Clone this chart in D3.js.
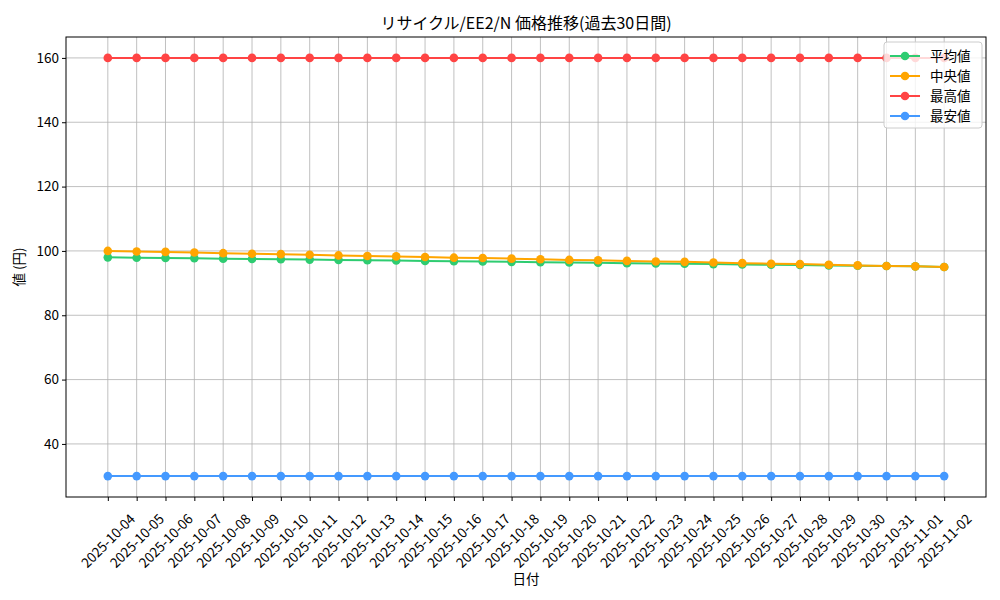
<!DOCTYPE html>
<html lang="ja">
<head>
  <meta charset="UTF-8">
  <title>リサイクル/EE2/N 価格推移</title>
  <style>
    body { margin: 0; background: #fff; }
    text { font-family: "Noto Sans CJK JP", "DejaVu Sans", sans-serif; }
  </style>
  <script src="https://d3js.org/d3.v7.min.js"></script>
</head>
<body>
  <div id="chart"></div>
  <script>
    const dates = [
      "2025-10-04", "2025-10-05", "2025-10-06", "2025-10-07", "2025-10-08",
      "2025-10-09", "2025-10-10", "2025-10-11", "2025-10-12", "2025-10-13",
      "2025-10-14", "2025-10-15", "2025-10-16", "2025-10-17", "2025-10-18",
      "2025-10-19", "2025-10-20", "2025-10-21", "2025-10-22", "2025-10-23",
      "2025-10-24", "2025-10-25", "2025-10-26", "2025-10-27", "2025-10-28",
      "2025-10-29", "2025-10-30", "2025-10-31", "2025-11-01", "2025-11-02"
    ];
    const avgValues = [
      98.0, 97.9, 97.8, 97.7, 97.6, 97.5, 97.4, 97.3, 97.2, 97.1,
      97.0, 96.9, 96.8, 96.7, 96.6, 96.5, 96.4, 96.3, 96.2, 96.1,
      96.0, 95.9, 95.8, 95.7, 95.6, 95.5, 95.4, 95.3, 95.2, 95.0
    ];
    const medianValues = [
      100.0, 99.8, 99.7, 99.5, 99.3, 99.1, 99.0, 98.8, 98.6, 98.4,
      98.3, 98.1, 97.9, 97.8, 97.6, 97.4, 97.2, 97.1, 96.9, 96.7,
      96.6, 96.4, 96.2, 96.0, 95.9, 95.7, 95.5, 95.3, 95.2, 95.0
    ];
    const maxValues = [
      160, 160, 160, 160, 160, 160, 160, 160, 160, 160,
      160, 160, 160, 160, 160, 160, 160, 160, 160, 160,
      160, 160, 160, 160, 160, 160, 160, 160, 160, 160
    ];
    const minValues = [
      30, 30, 30, 30, 30, 30, 30, 30, 30, 30,
      30, 30, 30, 30, 30, 30, 30, 30, 30, 30,
      30, 30, 30, 30, 30, 30, 30, 30, 30, 30
    ];
    const seriesNames = ["平均値", "中央値", "最高値", "最安値"];
    const seriesColors = ["#2ecc71", "#ffa500", "#ff4444", "#4499ff"];
    const yTicks = [40, 60, 80, 100, 120, 140, 160];

    const series = [avgValues, medianValues, maxValues, minValues].map((vals, i) => ({
      name: seriesNames[i],
      color: seriesColors[i],
      values: vals.map((v, j) => ({ date: dates[j], value: v }))
    }));

    const margin = { top: 37, right: 14, bottom: 103, left: 66 };
    const width = 1000 - margin.left - margin.right;
    const height = 600 - margin.top - margin.bottom;

    const root = d3.select("#chart")
      .append("svg")
      .attr("width", 1000)
      .attr("height", 600);

    const svg = root.append("g")
      .attr("transform", `translate(${margin.left},${margin.top})`);

    // matplotlib-like 5% padding on both axes
    const n = dates.length;
    const pad = (n - 1) * 0.05;
    const xIdx = d3.scaleLinear()
      .domain([-pad, n - 1 + pad])
      .range([0, width]);
    const x = d => xIdx(dates.indexOf(d));

    const allVals = [].concat(avgValues, medianValues, maxValues, minValues);
    const yMin = d3.min(allVals), yMax = d3.max(allVals);
    const yPad = (yMax - yMin) * 0.05;
    const y = d3.scaleLinear()
      .domain([yMin - yPad, yMax + yPad])
      .range([height, 0]);

    // grid
    svg.append("g")
      .selectAll("line")
      .data(dates)
      .join("line")
      .attr("x1", d => x(d)).attr("x2", d => x(d))
      .attr("y1", 0).attr("y2", height)
      .attr("stroke", "#b0b0b0").attr("stroke-width", 0.8);
    svg.append("g")
      .selectAll("line")
      .data(yTicks)
      .join("line")
      .attr("x1", 0).attr("x2", width)
      .attr("y1", d => y(d)).attr("y2", d => y(d))
      .attr("stroke", "#b0b0b0").attr("stroke-width", 0.8);

    // axes
    const xAxis = svg.append("g")
      .attr("transform", `translate(0,${height})`)
      .call(d3.axisBottom(xIdx)
        .tickValues(d3.range(n))
        .tickFormat(i => dates[i])
        .tickSizeOuter(0)
        .tickSize(4));
    // rotated labels centred under each tick, like matplotlib rotation=45
    xAxis.selectAll("text")
      .attr("y", 0)
      .attr("dy", "0.35em")
      .attr("transform", "translate(0,44) rotate(-45)")
      .attr("text-anchor", "middle")
      .style("font-size", "13.5px")
      .attr("fill", "#000");

    const yAxis = svg.append("g")
      .call(d3.axisLeft(y).tickValues(yTicks).tickSizeOuter(0).tickSize(4));
    yAxis.selectAll("text").style("font-size", "13.5px").attr("fill", "#000");
    svg.selectAll(".domain").remove();
    svg.selectAll(".tick line").attr("stroke", "#000");

    // frame
    svg.append("rect")
      .attr("width", width).attr("height", height)
      .attr("fill", "none").attr("stroke", "#000").attr("stroke-width", 1);

    // lines and markers
    const line = d3.line().x(d => x(d.date)).y(d => y(d.value));
    series.forEach(s => {
      svg.append("path")
        .datum(s.values)
        .attr("fill", "none")
        .attr("stroke", s.color)
        .attr("stroke-width", 2)
        .attr("d", line);
      svg.append("g")
        .selectAll("circle")
        .data(s.values)
        .join("circle")
        .attr("cx", d => x(d.date))
        .attr("cy", d => y(d.value))
        .attr("r", 4.3)
        .attr("fill", s.color);
    });

    // labels
    root.append("text")
      .attr("x", margin.left + width / 2)
      .attr("y", 29)
      .attr("text-anchor", "middle")
      .style("font-size", "16px")
      .text("リサイクル/EE2/N 価格推移(過去30日間)");
    root.append("text")
      .attr("x", margin.left + width / 2)
      .attr("y", 584)
      .attr("text-anchor", "middle")
      .style("font-size", "13.5px")
      .text("日付");
    root.append("text")
      .attr("transform", `translate(24,${margin.top + height / 2}) rotate(-90)`)
      .attr("text-anchor", "middle")
      .style("font-size", "13.5px")
      .text("値 (円)");

    // legend
    const legend = svg.append("g")
      .attr("transform", `translate(${width - 102},5)`);
    legend.append("rect")
      .attr("width", 98).attr("height", 86)
      .attr("rx", 3)
      .attr("fill", "#fff").attr("fill-opacity", 0.8)
      .attr("stroke", "#ccc");
    series.forEach((s, i) => {
      const row = legend.append("g").attr("transform", `translate(6,${14 + i * 20})`);
      row.append("line")
        .attr("x1", 0).attr("x2", 30)
        .attr("stroke", s.color).attr("stroke-width", 2);
      row.append("circle").attr("cx", 15).attr("r", 4.3).attr("fill", s.color);
      row.append("text")
        .attr("x", 40).attr("y", 5)
        .style("font-size", "13.5px")
        .text(s.name);
    });
  </script>
</body>
</html>
